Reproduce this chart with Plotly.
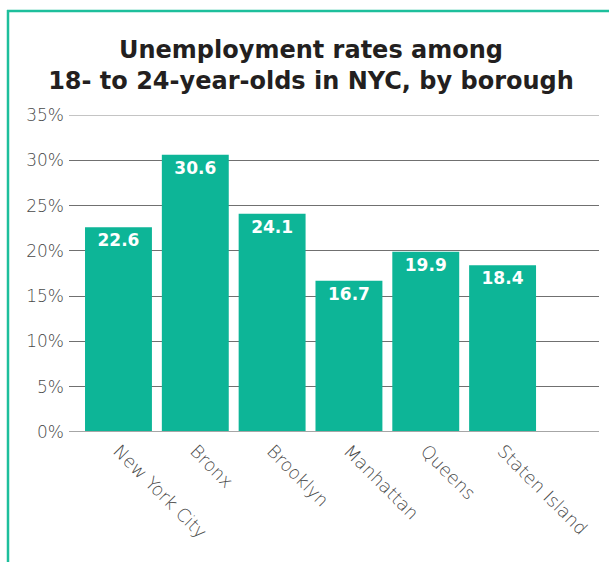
import plotly.graph_objects as go

# Unemployment rate (%) for 18- to 24-year-olds, by borough
boroughs = ["New York City", "Bronx", "Brooklyn", "Manhattan", "Queens", "Staten Island"]
rates = [22.6, 30.6, 24.1, 16.7, 19.9, 18.4]
y_ticks = [0, 5, 10, 15, 20, 25, 30, 35]
y_tick_labels = [f"{v}%" for v in y_ticks]

BAR = "#0db597"
FRAME = "#1dbf9c"
FONT = "'DejaVu Sans', sans-serif"

W, H = 609, 562
L, R, T, B = 69, 10, 115, 130

fig = go.Figure(
    go.Bar(
        x=list(range(len(boroughs))),
        y=rates,
        marker=dict(color=BAR, line=dict(width=0)),
        text=[f"{v:.1f}" for v in rates],
        textposition="inside",
        insidetextanchor="end",
        textangle=0,
        textfont=dict(family=FONT, size=17, color="white", weight=700),
        cliponaxis=False,
        hoverinfo="skip",
    )
)

plot_w = W - L - R
plot_h = H - T - B

fig.update_layout(
    width=W,
    height=H,
    margin=dict(l=L, r=R, t=T, b=B, pad=0),
    paper_bgcolor="white",
    plot_bgcolor="white",
    bargap=0.129,
    showlegend=False,
    uniformtext=dict(mode=False),
    title=dict(
        text="Unemployment rates among<br>18- to 24-year-olds in NYC, by borough",
        x=311 / W,
        xanchor="center",
        y=1 - 58 / H,
        yanchor="middle",
        font=dict(family=FONT, size=24, color="#231f20", weight=700),
    ),
    xaxis=dict(
        range=[-0.644, 6.255],
        tickmode="array",
        tickvals=list(range(len(boroughs))),
        ticktext=boroughs,
        tickangle=45,
        tickfont=dict(family=FONT, size=18, color="#4a4a4a", weight=300),
        showgrid=False,
        zeroline=False,
        showline=False,
        ticks="",
        ticklabelstandoff=4,
    ),
    yaxis=dict(
        range=[0, 35],
        tickmode="array",
        tickvals=y_ticks,
        ticktext=y_tick_labels,
        tickfont=dict(family=FONT, size=17, color="#4a4a4a", weight=300),
        showgrid=True,
        gridcolor="#707070",
        gridwidth=1,
        zeroline=False,
        showline=False,
        ticks="",
        ticklabelstandoff=4,
    ),
    shapes=[
        # lighter top rule
        dict(type="line", xref="paper", yref="y", x0=0, x1=1, y0=35, y1=35,
             line=dict(color="#b0b0b0", width=1.5), layer="above"),
        # baseline
        dict(type="line", xref="paper", yref="y", x0=0, x1=1, y0=0, y1=0,
             line=dict(color="#a6a6a6", width=2), layer="above"),
        # green frame: top and left edges
        dict(type="line", xref="paper", yref="paper",
             x0=(7 - L) / plot_w, x1=(W + 5 - L) / plot_w,
             y0=(H - B - 11) / plot_h, y1=(H - B - 11) / plot_h,
             line=dict(color=FRAME, width=2.5)),
        dict(type="line", xref="paper", yref="paper",
             x0=(8 - L) / plot_w, x1=(8 - L) / plot_w,
             y0=(H - B - 10) / plot_h, y1=(H - B - H - 5) / plot_h,
             line=dict(color=FRAME, width=2.5)),
    ],
)

fig.write_html("out.html")
